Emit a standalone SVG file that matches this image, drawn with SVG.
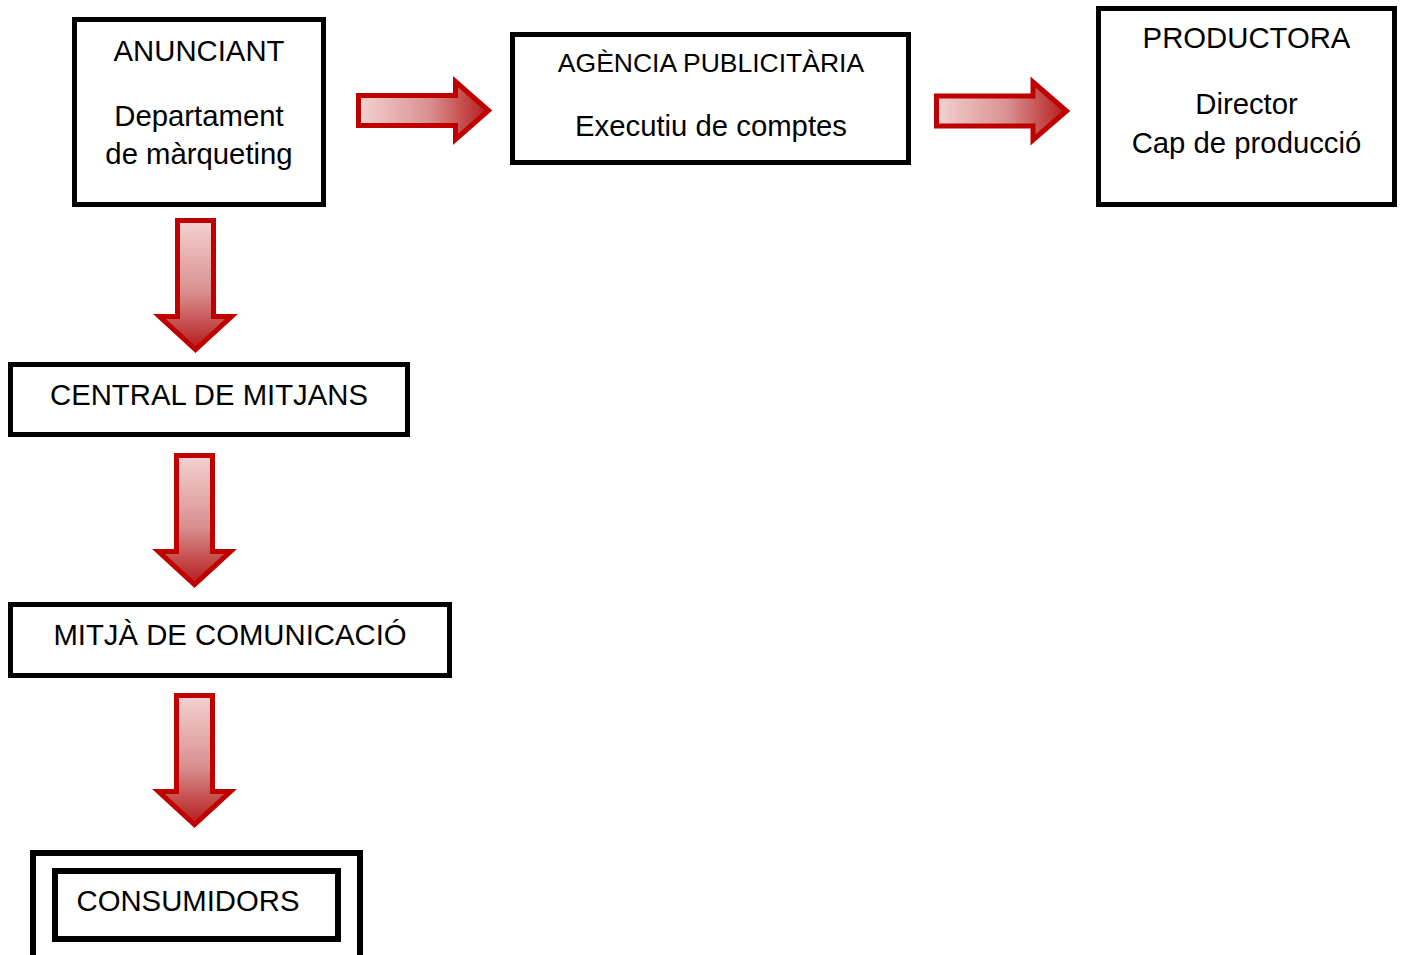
<svg xmlns="http://www.w3.org/2000/svg" width="1402" height="955" viewBox="0 0 1402 955">
<style>
.box{fill:#fff;stroke:#000;stroke-width:5}
.box6{fill:#fff;stroke:#000;stroke-width:6}
.t{font-family:"Liberation Sans",Arial,sans-serif;font-size:29.3px;fill:#000;text-anchor:middle}
.ts{font-size:26.5px}
.arr{stroke:#c00000;stroke-width:5;stroke-miterlimit:10}
.ar{fill:url(#gr)}
.ad{fill:url(#gd)}
</style>
<defs>
<linearGradient id="gr" x1="0" y1="0" x2="1" y2="0">
<stop offset="0" stop-color="#f4d2d2"/>
<stop offset="0.55" stop-color="#d99090"/>
<stop offset="1" stop-color="#b51a1a"/>
</linearGradient>
<linearGradient id="gd" x1="0" y1="0" x2="0" y2="1">
<stop offset="0" stop-color="#f4d2d2"/>
<stop offset="0.55" stop-color="#d99090"/>
<stop offset="1" stop-color="#b51a1a"/>
</linearGradient>
</defs>
<rect width="1402" height="955" fill="#fff"/>
<g id="connectors">
<path class="arr ar" d="M358.5,95.5 H455.5 V81.5 L488.5,110.5 L455.5,139.5 V125.5 H358.5 Z"/>
<path class="arr ar" d="M936.5,96 H1033 V82 L1066.5,111 L1033,140 V126 H936.5 Z"/>
<path class="arr ad" d="M177.5,220.5 H213.5 V316.5 H231.5 L195.5,349.5 L159.5,316.5 H177.5 Z"/>
<path class="arr ad" d="M176.5,455.5 H212.5 V551.5 H230.5 L194.5,584.5 L158.5,551.5 H176.5 Z"/>
<path class="arr ad" d="M176.5,695.5 H212.5 V791.5 H230.5 L194.5,824.5 L158.5,791.5 H176.5 Z"/>
</g>
<g id="anunciant">
<rect class="box" x="74.5" y="19.5" width="249" height="185"/>
<text class="t" x="199" y="61">ANUNCIANT</text>
<text class="t" x="199" y="126">Departament</text>
<text class="t" x="199" y="164">de màrqueting</text>
</g>
<g id="agencia">
<rect class="box" x="512.5" y="34.5" width="396" height="128"/>
<text class="t ts" x="711" y="72">AGÈNCIA PUBLICITÀRIA</text>
<text class="t" x="711" y="136">Executiu de comptes</text>
</g>
<g id="productora">
<rect class="box" x="1098.5" y="8.5" width="296" height="196"/>
<text class="t" x="1246.5" y="48">PRODUCTORA</text>
<text class="t" x="1246.5" y="114">Director</text>
<text class="t" x="1246.5" y="153">Cap de producció</text>
</g>
<g id="central">
<rect class="box" x="10.5" y="364.5" width="397" height="70"/>
<text class="t" x="209" y="405">CENTRAL DE MITJANS</text>
</g>
<g id="mitja">
<rect class="box" x="10.5" y="604.5" width="439" height="71"/>
<text class="t" x="230" y="645">MITJÀ DE COMUNICACIÓ</text>
</g>
<g id="consumidors">
<rect class="box6" x="33" y="853" width="327" height="130"/>
<rect class="box6" x="55" y="871" width="283" height="68"/>
<text class="t" x="188" y="911">CONSUMIDORS</text>
</g>
</svg>
